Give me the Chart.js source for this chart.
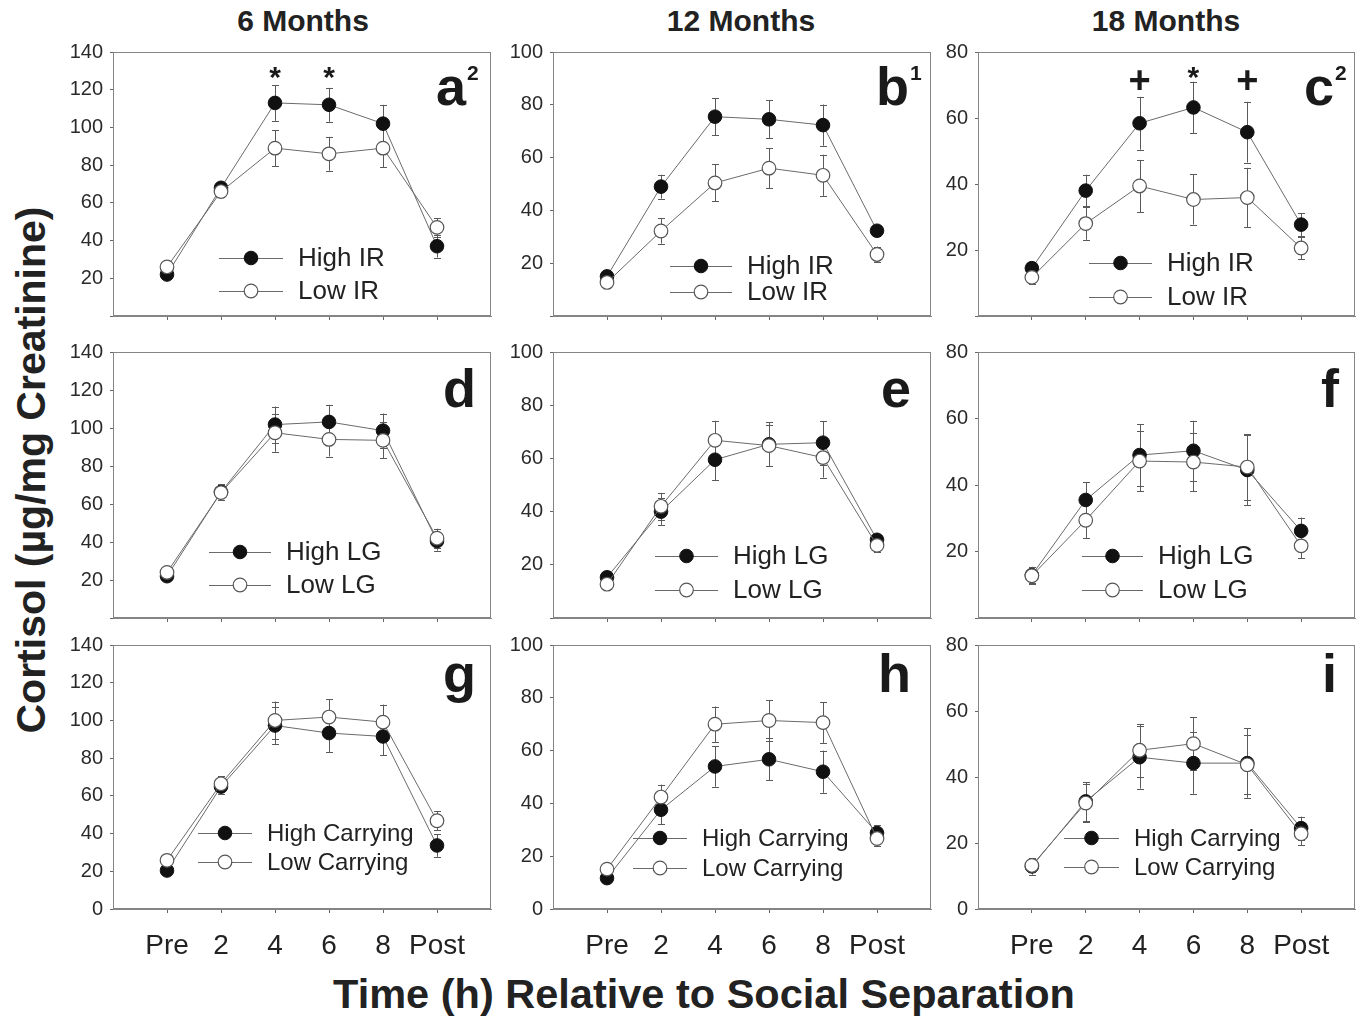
<!DOCTYPE html>
<html>
<head>
<meta charset="utf-8">
<script src="https://cdn.jsdelivr.net/npm/chart.js@4.4.1/dist/chart.umd.min.js"></script>
<style>
  html, body { margin: 0; padding: 0; background: #fff; }
  body { width: 1362px; height: 1021px; position: relative; overflow: hidden; font-family: "Liberation Sans", Arial, sans-serif; }
  canvas { position: absolute; }
  .txt { position: absolute; white-space: nowrap; color: #222; font-weight: bold; transform: translate(-50%, -50%); }
</style>
</head>
<body>
<div class="txt" style="left:303px; top:21px; font-size:30px;">6 Months</div>
<div class="txt" style="left:741px; top:21px; font-size:30px;">12 Months</div>
<div class="txt" style="left:1166px; top:21px; font-size:30px;">18 Months</div>
<div class="txt" style="left:31px; top:470px; font-size:41px; transform: translate(-50%, -50%) rotate(-90deg);">Cortisol (µg/mg Creatinine)</div>
<div class="txt" style="left:704px; top:994px; font-size:41.5px;">Time (h) Relative to Social Separation</div>

<script>
// ---------- DATA ----------
const timeLabels = ['Pre', '2', '4', '6', '8', 'Post'];

const legendIR = ['High IR', 'Low IR'];
const legendLG = ['High LG', 'Low LG'];
const legendCarry = ['High Carrying', 'Low Carrying'];

// 6 months - IR
const a_high = [22, 68, 113, 112, 102, 37];
const a_highErr = [2, 3, 9.5, 9, 10, 6];
const a_low = [26, 66, 89, 86, 89, 47];
const a_lowErr = [2, 3, 9.5, 9, 10, 5];
// 12 months - IR
const b_high = [15, 49, 75.5, 74.5, 72.3, 32.3];
const b_highErr = [1.5, 4.5, 7, 7.2, 7.8, 2];
const b_low = [12.7, 32.2, 50.4, 56, 53.3, 23.3];
const b_lowErr = [2, 4.8, 7, 7.6, 7.8, 3];
// 18 months - IR
const c_high = [14.5, 38, 58.4, 63.2, 55.7, 27.7];
const c_highErr = [2, 4.8, 8, 7.8, 9.2, 3.5];
const c_low = [11.7, 28, 39.4, 35.3, 35.9, 20.6];
const c_lowErr = [2, 4.9, 7.9, 7.6, 9, 3.4];
// 6 months - LG
const d_high = [22, 66.3, 101.8, 103.2, 98.6, 40.5];
const d_highErr = [2, 4, 9.5, 9, 9, 5];
const d_low = [24, 66, 97.5, 94, 93.5, 42];
const d_lowErr = [2, 4, 10, 9, 9.5, 5];
// 12 months - LG
const e_high = [15.3, 40, 59.5, 65.3, 65.9, 29.4];
const e_highErr = [1.5, 5, 7.7, 8.3, 8.2, 2];
const e_low = [12.7, 42, 66.8, 64.8, 60.3, 27.3];
const e_lowErr = [1.5, 5, 7.3, 7.6, 7.5, 2.5];
// 18 months - LG
const f_high = [12.9, 35.5, 49, 50.3, 44.5, 26.2];
const f_highErr = [2.5, 5.4, 9.3, 9, 10.5, 4];
const f_low = [12.7, 29.4, 47.2, 46.9, 45.4, 21.7];
const f_lowErr = [2.5, 5.4, 9, 8.8, 9.8, 3.7];
// 6 months - Carrying
const g_high = [20.4, 64.9, 97.3, 93.3, 91.5, 33.7];
const g_highErr = [2, 4, 10, 10, 10, 6];
const g_low = [25.8, 66.4, 100, 101.8, 99.1, 46.8];
const g_lowErr = [2, 4, 10, 9.3, 9.3, 5];
// 12 months - Carrying
const h_high = [11.7, 37.6, 54, 56.7, 52, 28.8];
const h_highErr = [1.5, 5.4, 7.7, 8, 8, 3];
const h_low = [15.1, 42.4, 70, 71.4, 70.6, 26.7];
const h_lowErr = [1.5, 4.7, 6.7, 7.6, 7.7, 3];
// 18 months - Carrying
const i_high = [12.9, 32.6, 46, 44.2, 44.2, 24.5];
const i_highErr = [2.5, 5.8, 9.5, 9.3, 10.5, 3.5];
const i_low = [13.2, 32.1, 48.1, 50.1, 43.7, 22.8];
const i_lowErr = [2, 5.8, 8, 8, 9, 3.5];

// significance marks (category index, value level, symbol)
const annA = [{i: 2, v: 130.5, t: '*'}, {i: 3, v: 130.5, t: '*'}];
const annC = [{i: 2, v: 71.5, t: '+'}, {i: 3, v: 74.5, t: '*'}, {i: 4, v: 71.5, t: '+'}];

const yMaxByCol = [140, 100, 80];

// ---------- LAYOUT ----------
const FONT = '"Liberation Sans", Arial, sans-serif';
const cols = [{left: 113, right: 491}, {left: 553, right: 931}, {left: 978, right: 1355}];
const rows = [{top: 52, bottom: 316, letterDy: 53}, {top: 352, bottom: 618, letterDy: 55}, {top: 645, bottom: 909, letterDy: 47}];

const panels = [
  {col: 0, row: 0, high: a_high, highErr: a_highErr, low: a_low, lowErr: a_lowErr, names: legendIR, letter: 'a', sup: '2', ldx: 25, ann: annA, lg: {dx: 106, dy: 206, gap: 33, len: 64, font: 26}},
  {col: 1, row: 0, high: b_high, highErr: b_highErr, low: b_low, lowErr: b_lowErr, names: legendIR, letter: 'b', sup: '1', ldx: 22, ann: [], lg: {dx: 117, dy: 214, gap: 26, len: 62, font: 26}},
  {col: 2, row: 0, high: c_high, highErr: c_highErr, low: c_low, lowErr: c_lowErr, names: legendIR, letter: 'c', sup: '2', ldx: 21, ann: annC, lg: {dx: 111, dy: 211, gap: 34, len: 63, font: 26}},
  {col: 0, row: 1, high: d_high, highErr: d_highErr, low: d_low, lowErr: d_lowErr, names: legendLG, letter: 'd', sup: '', ldx: 15, ann: [], lg: {dx: 96, dy: 200, gap: 33, len: 62, font: 26}},
  {col: 1, row: 1, high: e_high, highErr: e_highErr, low: e_low, lowErr: e_lowErr, names: legendLG, letter: 'e', sup: '', ldx: 20, ann: [], lg: {dx: 102, dy: 204, gap: 34, len: 63, font: 26}},
  {col: 2, row: 1, high: f_high, highErr: f_highErr, low: f_low, lowErr: f_lowErr, names: legendLG, letter: 'f', sup: '', ldx: 16, ann: [], lg: {dx: 104, dy: 204, gap: 34, len: 61, font: 26}},
  {col: 0, row: 2, high: g_high, highErr: g_highErr, low: g_low, lowErr: g_lowErr, names: legendCarry, letter: 'g', sup: '', ldx: 15, ann: [], lg: {dx: 85, dy: 188, gap: 29, len: 54, font: 24}},
  {col: 1, row: 2, high: h_high, highErr: h_highErr, low: h_low, lowErr: h_lowErr, names: legendCarry, letter: 'h', sup: '', ldx: 20, ann: [], lg: {dx: 80, dy: 193, gap: 30, len: 54, font: 24}},
  {col: 2, row: 2, high: i_high, highErr: i_highErr, low: i_low, lowErr: i_lowErr, names: legendCarry, letter: 'i', sup: '', ldx: 18, ann: [], lg: {dx: 86, dy: 193, gap: 29, len: 55, font: 24}}
];

const highStyle = {bg: '#111111', border: '#111111', bw: 1};
const lowStyle = {bg: '#ffffff', border: '#555555', bw: 1.2};
const MARKER_R = 6.8;
const LINE_COLOR = '#6a6a6a';
const ERR_COLOR = '#5a5a5a';

function drawMarker(ctx, x, y, st) {
  ctx.beginPath();
  ctx.arc(x, y, MARKER_R, 0, Math.PI * 2);
  ctx.fillStyle = st.bg;
  ctx.fill();
  ctx.lineWidth = st.bw;
  ctx.strokeStyle = st.border;
  ctx.stroke();
}

const decorPlugin = {
  id: 'decor',
  beforeDatasetsDraw(chart) {
    const ctx = chart.ctx, xs = chart.scales.x, ys = chart.scales.y;
    ctx.save();
    ctx.strokeStyle = ERR_COLOR;
    ctx.lineWidth = 1;
    chart.data.datasets.forEach(ds => {
      ds.data.forEach((p, k) => {
        const e = ds.errors[k];
        const px = Math.round(xs.getPixelForValue(p.x)) + 0.5;
        const yt = ys.getPixelForValue(p.y + e);
        const yb = ys.getPixelForValue(p.y - e);
        ctx.beginPath();
        ctx.moveTo(px, yt); ctx.lineTo(px, yb);
        ctx.moveTo(px - 3.5, Math.round(yt) + 0.5); ctx.lineTo(px + 3.5, Math.round(yt) + 0.5);
        ctx.moveTo(px - 3.5, Math.round(yb) + 0.5); ctx.lineTo(px + 3.5, Math.round(yb) + 0.5);
        ctx.stroke();
      });
    });
    ctx.restore();
  },
  afterDraw(chart, args, opts) {
    const ctx = chart.ctx, a = chart.chartArea, xs = chart.scales.x, ys = chart.scales.y;
    const P = opts.panel;
    ctx.save();
    // full box
    ctx.strokeStyle = '#858585';
    ctx.lineWidth = 1;
    ctx.strokeRect(Math.round(a.left) + 0.5, Math.round(a.top) + 0.5, Math.round(a.right - a.left) - 1, Math.round(a.bottom - a.top) - 1);

    // panel letter
    ctx.fillStyle = '#1a1a1a';
    ctx.textBaseline = 'alphabetic';
    ctx.font = 'bold 54px ' + FONT;
    const base = a.top + rows[P.row].letterDy;
    const lx = a.right - P.ldx;
    ctx.textAlign = 'right';
    ctx.fillText(P.letter, lx, base);
    if (P.sup) {
      ctx.font = 'bold 21px ' + FONT;
      ctx.textAlign = 'left';
      ctx.fillText(P.sup, lx + 1, base - 25);
    }

    // significance marks
    P.ann.forEach(m => {
      const x = xs.getPixelForValue(m.i);
      const y = ys.getPixelForValue(m.v);
      ctx.textAlign = 'center';
      ctx.textBaseline = 'alphabetic';
      if (m.t === '*') {
        ctx.font = 'bold 30px ' + FONT;
        ctx.fillText('*', x, y + 0.57 * 30);
      } else {
        ctx.font = 'bold 38px ' + FONT;
        ctx.fillText('+', x, y + 0.34 * 38);
      }
    });

    // legend
    const L = P.lg;
    const styles = [highStyle, lowStyle];
    for (let k = 0; k < 2; k++) {
      const y = a.top + L.dy + k * L.gap;
      const x0 = a.left + L.dx;
      ctx.strokeStyle = LINE_COLOR;
      ctx.lineWidth = 1;
      ctx.beginPath();
      ctx.moveTo(x0, Math.round(y) + 0.5);
      ctx.lineTo(x0 + L.len, Math.round(y) + 0.5);
      ctx.stroke();
      drawMarker(ctx, x0 + L.len / 2, y, styles[k]);
      ctx.fillStyle = '#222';
      ctx.font = L.font + 'px ' + FONT;
      ctx.textAlign = 'left';
      ctx.textBaseline = 'middle';
      ctx.fillText(P.names[k], x0 + L.len + 15, y + 1);
    }
    ctx.restore();
  }
};

panels.forEach(P => {
  const C = cols[P.col], R = rows[P.row];
  const padL = 62, padT = 20, padR = 24;
  const bottomRow = P.row === 2;
  const xh = bottomRow ? 62 : 22;
  const cv = document.createElement('canvas');
  const w = (C.right - C.left) + padL + padR;
  const h = (R.bottom - R.top) + padT + xh;
  cv.width = w; cv.height = h;
  cv.style.left = (C.left - padL) + 'px';
  cv.style.top = (R.top - padT) + 'px';
  cv.style.width = w + 'px'; cv.style.height = h + 'px';
  document.body.appendChild(cv);

  const toPts = arr => arr.map((v, k) => ({x: k, y: v}));
  const yMax = yMaxByCol[P.col];

  new Chart(cv, {
    type: 'line',
    data: {
      datasets: [
        {label: P.names[0], data: toPts(P.high), errors: P.highErr, order: 1,
         borderColor: LINE_COLOR, borderWidth: 1, pointRadius: MARKER_R, pointHoverRadius: MARKER_R,
         pointBackgroundColor: highStyle.bg, pointBorderColor: highStyle.border, pointBorderWidth: highStyle.bw, tension: 0, fill: false},
        {label: P.names[1], data: toPts(P.low), errors: P.lowErr, order: 0,
         borderColor: LINE_COLOR, borderWidth: 1, pointRadius: MARKER_R, pointHoverRadius: MARKER_R,
         pointBackgroundColor: lowStyle.bg, pointBorderColor: lowStyle.border, pointBorderWidth: lowStyle.bw, tension: 0, fill: false}
      ]
    },
    options: {
      responsive: false,
      animation: false,
      devicePixelRatio: 1,
      layout: {padding: {left: 0, top: padT, right: padR, bottom: 0}},
      plugins: {legend: {display: false}, tooltip: {enabled: false}, decor: {panel: P}},
      scales: {
        x: {
          type: 'linear', min: -1, max: 6,
          afterFit: s => { s.height = xh; },
          afterBuildTicks: s => { s.ticks = [-1, 0, 1, 2, 3, 4, 5, 6].map(v => ({value: v})); },
          ticks: {
            autoSkip: false, maxRotation: 0, padding: 16,
            color: '#222', font: {family: FONT, size: 28},
            callback: v => (bottomRow && v >= 0 && v < timeLabels.length) ? timeLabels[v] : ''
          },
          grid: {
            drawOnChartArea: false, drawTicks: true, tickLength: 4,
            color: c => (c.tick && c.tick.value >= 0 && c.tick.value <= 5) ? '#666' : 'rgba(0,0,0,0)'
          },
          border: {display: true, color: '#858585'}
        },
        y: {
          type: 'linear', min: 0, max: yMax,
          afterFit: s => { s.width = padL; },
          ticks: {
            stepSize: 20, padding: 7, color: '#2a2a2a', font: {family: FONT, size: 20},
            callback: v => (v === 0 && !bottomRow) ? '' : String(v)
          },
          grid: {drawOnChartArea: false, drawTicks: true, tickLength: 3, color: '#666'},
          border: {display: true, color: '#858585'}
        }
      }
    },
    plugins: [decorPlugin]
  });
});
</script>
</body>
</html>
